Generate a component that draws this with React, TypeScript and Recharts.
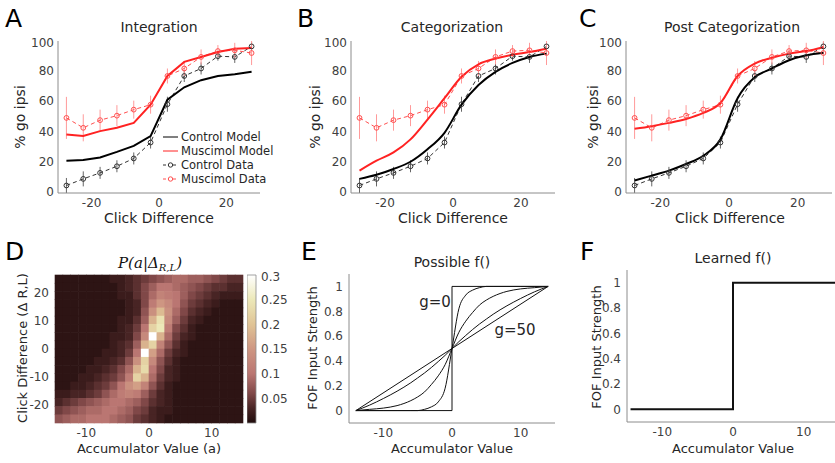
import React from "react";
import {
  LineChart,
  Line,
  XAxis,
  YAxis,
  ErrorBar,
  ScatterChart,
  Scatter,
  BarChart,
  Bar,
} from "recharts";

// ---- psychometric data (A, B, C) ----
const clickBins = [-27.5, -22.5, -17.5, -12.5, -7.5, -2.5, 2.5, 7.5, 12.5, 17.5, 22.5, 27.5];
const controlData = [3.9, 8.3, 12.3, 16.7, 21.9, 32.5, 58, 76.8, 81.8, 90, 89.5, 96.5];
const controlErr = [5, 5, 4, 4, 4, 4, 5, 4, 4, 3, 4, 3];
const muscimolData = [48.9, 42.3, 47.4, 50.4, 54.4, 57.7, 76.8, 81.8, 89.5, 93.4, 93.9, 92.1];
const muscimolErr = [14, 9, 7, 7, 6, 6, 5, 5, 5, 4, 5, 8];

const integrationControl = [20.4, 20.8, 22.6, 26.3, 30.3, 36.8, 61, 69.3, 74, 76.8, 78, 79.6];
const integrationMuscimol = [37.9, 36.8, 40.1, 42.3, 45.6, 57.7, 76.8, 86.2, 89.5, 92.8, 95, 95.4];
const categorizationControl = [8.3, 11, 14.9, 19.7, 28, 39, 57.7, 70.8, 79.6, 85.5, 89.5, 91.7];
const categorizationMuscimol = [13.8, 20.4, 25.9, 34.6, 47.8, 62, 76.3, 84.6, 88.4, 91, 92.8, 95];
const postControl = [7.2, 10.5, 13.8, 18.2, 23.7, 34.6, 62, 75.9, 81.8, 87.3, 90.6, 92.3];
const postMuscimol = [41.7, 43.4, 45.6, 48.2, 52.2, 58.8, 76.8, 85.1, 89, 91.7, 93.4, 96];

// ---- heatmap (D): P(a | click difference), values in hundredths ----
const heatA = [
  -14.375, -13.125, -11.875, -10.625, -9.375, -8.125, -6.875, -5.625, -4.375, -3.125, -1.875, -0.625,
  0.625, 1.875, 3.125, 4.375, 5.625, 6.875, 8.125, 9.375, 10.625, 11.875, 13.125, 14.375,
];
const heatDelta = [
  25.03, 22.08, 19.14, 16.19, 13.25, 10.31, 7.36, 4.42, 1.47, -1.47, -4.42, -7.36, -10.31, -13.25,
  -16.19, -19.14, -22.08, -25.03,
];
const heatRows = [
  [1, 1, 1, 1, 1, 1, 1, 2, 2, 3, 4, 5, 6, 7, 8, 9, 9, 8, 8, 7, 6, 5, 4, 4],
  [1, 1, 1, 1, 1, 1, 1, 1, 2, 3, 4, 6, 8, 10, 10, 9, 8, 7, 6, 5, 4, 4, 3, 3],
  [1, 1, 1, 1, 1, 1, 1, 1, 2, 2, 4, 6, 9, 12, 11, 10, 8, 6, 5, 4, 3, 2, 2, 2],
  [1, 1, 1, 1, 1, 1, 1, 1, 1, 2, 3, 6, 11, 15, 13, 10, 7, 5, 4, 3, 2, 1, 1, 1],
  [1, 1, 1, 1, 1, 1, 1, 1, 1, 2, 3, 7, 14, 19, 14, 9, 6, 4, 3, 2, 1, 1, 1, 1],
  [1, 1, 1, 1, 1, 1, 1, 1, 2, 2, 4, 8, 18, 24, 13, 8, 5, 3, 2, 1, 1, 1, 1, 1],
  [1, 1, 1, 1, 1, 1, 1, 1, 2, 3, 5, 10, 22, 25, 11, 6, 4, 2, 1, 1, 1, 1, 1, 1],
  [1, 1, 1, 1, 1, 1, 1, 2, 2, 3, 6, 13, 30, 18, 9, 5, 3, 2, 1, 1, 1, 1, 1, 1],
  [1, 1, 1, 1, 1, 1, 1, 2, 3, 4, 8, 18, 22, 12, 7, 4, 2, 1, 1, 1, 1, 1, 1, 1],
  [1, 1, 1, 1, 1, 1, 2, 2, 3, 5, 10, 30, 16, 9, 5, 3, 2, 1, 1, 1, 1, 1, 1, 1],
  [1, 1, 1, 1, 1, 2, 2, 3, 4, 7, 14, 22, 13, 7, 4, 2, 1, 1, 1, 1, 1, 1, 1, 1],
  [1, 1, 1, 1, 2, 2, 3, 4, 6, 9, 18, 23, 10, 6, 3, 2, 1, 1, 1, 1, 1, 1, 1, 1],
  [1, 1, 1, 2, 2, 3, 4, 5, 7, 11, 22, 18, 9, 5, 3, 2, 1, 1, 1, 1, 1, 1, 1, 1],
  [1, 1, 2, 2, 3, 4, 5, 7, 10, 14, 16, 12, 7, 4, 2, 1, 1, 1, 1, 1, 1, 1, 1, 1],
  [2, 2, 3, 3, 4, 5, 7, 9, 11, 12, 11, 8, 5, 3, 2, 1, 1, 1, 1, 1, 1, 1, 1, 1],
  [3, 4, 5, 6, 7, 8, 9, 10, 10, 9, 8, 6, 4, 3, 2, 1, 1, 1, 1, 1, 1, 1, 1, 1],
  [5, 6, 7, 8, 9, 9, 10, 10, 9, 8, 6, 5, 3, 2, 2, 1, 1, 1, 1, 1, 1, 1, 1, 1],
  [7, 8, 9, 9, 10, 10, 10, 9, 8, 7, 5, 4, 3, 2, 1, 1, 1, 1, 1, 1, 1, 1, 1, 1],
];
const colorbarTicks = [0.05, 0.1, 0.15, 0.2, 0.25, 0.3];

// ---- f() curves (E, F) ----
const fX = [-14, -12, -10, -8, -6, -5, -4, -3, -2, -1, 0, 1, 2, 3, 4, 5, 6, 8, 10, 12, 14];
const fSteep = [0, 0, 0, 0, 0, 0, 0.01, 0.03, 0.07, 0.18, 0.5, 0.82, 0.93, 0.97, 0.99, 1, 1, 1, 1, 1, 1];
const fMid = [0, 0.01, 0.02, 0.04, 0.08, 0.11, 0.15, 0.21, 0.28, 0.37, 0.5, 0.63, 0.72, 0.79, 0.85, 0.89, 0.92, 0.96, 0.98, 0.99, 1];
const fSoft = [0, 0.044, 0.097, 0.156, 0.224, 0.263, 0.303, 0.347, 0.395, 0.445, 0.5, 0.555, 0.605, 0.653, 0.697, 0.737, 0.776, 0.844, 0.903, 0.956, 1];
const linearX = [-14, 14];
const linearY = [0, 1];
const stepX = [-14, 0, 0, 14];
const stepY = [0, 0, 1, 1];
const learnedX = [-14.5, 0, 0, 15];
const learnedY = [0, 0, 1, 1];

const FONT = "'DejaVu Sans', sans-serif";
const AXIS = "#8c8c8c";
const TICK = { fontSize: 12, fill: "#404040", fontFamily: FONT };
const RED = "#ff2222";
const RED_DATA = "#ff5050";

type Box = { left: number; top: number; w: number; h: number };
const YW = 40;
const XH = 24;
const PAD = 6;

const pts = (xs: number[], ys: number[], errs?: number[]) =>
  xs.map((x, i) => ({ x, y: ys[i], err: errs ? errs[i] : 0 }));

function PsychoPanel({
  box,
  control,
  muscimol,
  curve = "monotone",
}: {
  box: Box;
  control: number[];
  muscimol: number[];
  curve?: any;
}) {
  return (
    <div style={{ position: "absolute", left: box.left - YW, top: box.top - PAD }}>
      <LineChart
        width={box.w + YW + PAD}
        height={box.h + PAD + XH}
        margin={{ top: PAD, right: PAD, left: 0, bottom: 0 }}
      >
        <XAxis
          type="number"
          dataKey="x"
          domain={[-30, 30]}
          ticks={[-20, 0, 20]}
          height={XH}
          tick={TICK}
          tickLine={false}
          tickSize={3}
          tickMargin={2}
          axisLine={{ stroke: AXIS }}
          allowDataOverflow
        />
        <YAxis
          type="number"
          domain={[0, 100]}
          ticks={[0, 20, 40, 60, 80, 100]}
          width={YW}
          tick={TICK}
          tickLine={false}
          tickSize={2}
          tickMargin={2}
          axisLine={{ stroke: AXIS }}
        />
        <Line
          data={pts(clickBins, controlData, controlErr)}
          dataKey="y"
          stroke="#333"
          strokeWidth={1}
          strokeDasharray="4 3"
          dot={{ r: 2.4, stroke: "#333", strokeWidth: 1, fill: "none", strokeDasharray: "none" }}
          isAnimationActive={false}
        >
          <ErrorBar dataKey="err" direction="y" width={0} stroke="#666" strokeWidth={1} />
        </Line>
        <Line
          data={pts(clickBins, muscimolData, muscimolErr)}
          dataKey="y"
          stroke={RED_DATA}
          strokeWidth={1}
          strokeDasharray="4 3"
          dot={{ r: 2.4, stroke: RED_DATA, strokeWidth: 1, fill: "none", strokeDasharray: "none" }}
          isAnimationActive={false}
        >
          <ErrorBar dataKey="err" direction="y" width={0} stroke="#ff9a9a" strokeWidth={1} />
        </Line>
        <Line
          data={pts(clickBins, control)}
          dataKey="y"
          type={curve}
          stroke="#000"
          strokeWidth={2}
          dot={false}
          isAnimationActive={false}
        />
        <Line
          data={pts(clickBins, muscimol)}
          dataKey="y"
          type={curve}
          stroke={RED}
          strokeWidth={2}
          dot={false}
          isAnimationActive={false}
        />
      </LineChart>
    </div>
  );
}

function FPanel({ box, children }: { box: Box; children: React.ReactNode }) {
  return (
    <div style={{ position: "absolute", left: box.left - YW, top: box.top - PAD }}>
      <LineChart
        width={box.w + YW + PAD}
        height={box.h + PAD + XH}
        margin={{ top: PAD, right: PAD, left: 0, bottom: 0 }}
      >
        <XAxis
          type="number"
          dataKey="x"
          domain={[-15, 15]}
          ticks={[-10, 0, 10]}
          height={XH}
          tick={TICK}
          tickLine={false}
          tickSize={3}
          tickMargin={2}
          axisLine={{ stroke: AXIS }}
          allowDataOverflow
        />
        <YAxis
          type="number"
          domain={[-0.1, 1.1]}
          ticks={[0, 0.2, 0.4, 0.6, 0.8, 1]}
          width={YW}
          tick={TICK}
          tickLine={false}
          tickSize={2}
          tickMargin={4}
          axisLine={{ stroke: AXIS }}
          allowDataOverflow
        />
        {children}
      </LineChart>
    </div>
  );
}

const cmapStops: [number, number[]][] = [
  [0, [32, 12, 12]],
  [0.03, [72, 36, 36]],
  [0.06, [128, 72, 72]],
  [0.1, [186, 118, 114]],
  [0.15, [206, 150, 130]],
  [0.2, [224, 196, 150]],
  [0.25, [236, 232, 184]],
  [0.3, [255, 255, 255]],
];
function cmap(v: number) {
  for (let i = 1; i < cmapStops.length; i++) {
    const [v1, c1] = cmapStops[i];
    const [v0, c0] = cmapStops[i - 1];
    if (v <= v1 || i === cmapStops.length - 1) {
      const t = Math.max(0, Math.min(1, (v - v0) / (v1 - v0)));
      const c = c0.map((ch, k) => Math.round(ch + (c1[k] - ch) * t));
      return `rgb(${c[0]},${c[1]},${c[2]})`;
    }
  }
  return "#fff";
}

const heatBox: Box = { left: 55, top: 275, w: 188, h: 148 };
const barBox: Box = { left: 247, top: 275, w: 9, h: 148 };

function Heatmap() {
  const cells = heatRows.flatMap((row, j) =>
    row.map((v, i) => ({ a: heatA[i], d: heatDelta[j], v: v / 100 }))
  );
  const cw = heatBox.w / heatA.length;
  const ch = heatBox.h / heatDelta.length;
  return (
    <div style={{ position: "absolute", left: heatBox.left - YW, top: heatBox.top - PAD }}>
      <ScatterChart
        width={heatBox.w + YW + PAD}
        height={heatBox.h + PAD + XH}
        margin={{ top: PAD, right: PAD, left: 0, bottom: 0 }}
      >
        <XAxis
          type="number"
          dataKey="a"
          domain={[-15, 15]}
          ticks={[-10, 0, 10]}
          height={XH}
          tick={TICK}
          tickLine={false}
          tickSize={3}
          tickMargin={2}
          axisLine={false}
        />
        <YAxis
          type="number"
          dataKey="d"
          domain={[-26.5, 26.5]}
          ticks={[-20, -10, 0, 10, 20]}
          width={YW}
          tick={TICK}
          tickLine={false}
          tickSize={2}
          tickMargin={4}
          axisLine={false}
        />
        <Scatter
          data={cells}
          isAnimationActive={false}
          shape={(p: any) => (
            <rect
              x={p.cx - cw / 2 - 0.3}
              y={p.cy - ch / 2 - 0.3}
              width={cw + 0.6}
              height={ch + 0.6}
              fill={cmap(p.payload.v)}
            />
          )}
        />
      </ScatterChart>
    </div>
  );
}

function Colorbar() {
  return (
    <div style={{ position: "absolute", left: barBox.left, top: barBox.top - PAD }}>
      <BarChart
        width={barBox.w + 40}
        height={barBox.h + PAD + 2}
        data={[{ k: "c", v: 0.3 }]}
        margin={{ top: PAD, right: 0, left: 0, bottom: 2 }}
        barCategoryGap={0}
      >
        <defs>
          <linearGradient id="cbGrad" x1="0" y1="0" x2="0" y2="1">
            {cmapStops
              .slice()
              .reverse()
              .map(([v]) => (
                <stop key={v} offset={`${((0.3 - v) / 0.3) * 100}%`} stopColor={cmap(v)} />
              ))}
          </linearGradient>
        </defs>
        <XAxis dataKey="k" hide />
        <YAxis
          orientation="right"
          type="number"
          domain={[0, 0.3]}
          ticks={colorbarTicks}
          width={40}
          tick={TICK}
          tickLine={false}
          tickSize={2}
          tickMargin={3}
          axisLine={false}
        />
        <Bar dataKey="v" fill="url(#cbGrad)" stroke={AXIS} strokeWidth={0.8} isAnimationActive={false} />
      </BarChart>
    </div>
  );
}

const aBox: Box = { left: 58, top: 41, w: 202, h: 152 };
const bBox: Box = { left: 351, top: 41, w: 204, h: 152 };
const cBox: Box = { left: 626, top: 41, w: 206, h: 152 };
const eBox: Box = { left: 349, top: 274, w: 206, h: 149 };
const fBox: Box = { left: 627, top: 270, w: 212, h: 152 };

const txt = { fontFamily: FONT, fill: "#262626" };

function Overlay() {
  const legend = [
    { label: "Control Model", color: "#000", dash: false },
    { label: "Muscimol Model", color: RED, dash: false },
    { label: "Control Data", color: "#333", dash: true },
    { label: "Muscimol Data", color: RED_DATA, dash: true },
  ];
  const ylab = (x: number, y: number, s: string, size: number) => (
    <text
      x={x}
      y={y}
      transform={`rotate(-90 ${x} ${y})`}
      textAnchor="middle"
      dominantBaseline="central"
      fontSize={size}
      {...txt}
    >
      {s}
    </text>
  );
  const mid = (x: number, y: number, s: string, size: number) => (
    <text x={x} y={y} textAnchor="middle" dominantBaseline="central" fontSize={size} {...txt}>
      {s}
    </text>
  );
  const letter = (x: number, y: number, s: string) => (
    <text x={x} y={y} fontSize={25} fontFamily={FONT} fill="#000">
      {s}
    </text>
  );
  return (
    <svg
      width={835}
      height={463}
      style={{ position: "absolute", left: 0, top: 0, pointerEvents: "none" }}
    >
      {letter(5, 27, "A")}
      {letter(297, 27, "B")}
      {letter(579, 27, "C")}
      {letter(5, 260, "D")}
      {letter(301, 260, "E")}
      {letter(580, 260, "F")}

      {mid(159, 27, "Integration", 14)}
      {mid(452, 27, "Categorization", 14)}
      {mid(732, 27, "Post Categorization", 14)}
      {ylab(20, 117, "% go ipsi", 14)}
      {ylab(315, 117, "% go ipsi", 14)}
      {ylab(593, 117, "% go ipsi", 14)}
      {mid(159, 218, "Click Difference", 14)}
      {mid(453, 218, "Click Difference", 14)}
      {mid(730, 218, "Click Difference", 14)}

      {legend.map((e, i) => {
        const y = 137 + i * 14;
        return (
          <g key={e.label}>
            <line
              x1={163}
              x2={178}
              y1={y}
              y2={y}
              stroke={e.color}
              strokeWidth={1}
              strokeDasharray={e.dash ? "3 2" : undefined}
            />
            {e.dash && <circle cx={170.5} cy={y} r={2.2} fill="#fff" stroke={e.color} strokeWidth={1} />}
            <text x={181} y={y} dominantBaseline="central" fontSize={11.5} {...txt}>
              {e.label}
            </text>
          </g>
        );
      })}

      <text
        x={150}
        y={263}
        textAnchor="middle"
        dominantBaseline="central"
        fontSize={15}
        fontFamily="'DejaVu Serif', serif"
        fontStyle="italic"
        fill="#111"
      >
        P(a|Δ
        <tspan fontSize={10} dy={4}>
          R,L
        </tspan>
        <tspan dy={-4}>)</tspan>
      </text>
      {ylab(22, 348, "Click Difference (Δ R,L)", 13)}
      {mid(149, 448, "Accumulator Value (a)", 13)}

      {mid(452, 262, "Possible f()", 14)}
      {ylab(312, 348, "FOF Input Strength", 13)}
      {mid(452, 448, "Accumulator Value", 13)}
      {mid(435, 302, "g=0", 15)}
      {mid(515, 330, "g=50", 15)}

      {mid(733, 258, "Learned f()", 14)}
      {ylab(596, 347, "FOF Input Strength", 13)}
      {mid(733, 448, "Accumulator Value", 13)}
    </svg>
  );
}

export default function App() {
  const fLine = (xs: number[], ys: number[], key: string, width = 1, type: any = "linear") => (
    <Line
      key={key}
      data={pts(xs, ys)}
      dataKey="y"
      type={type}
      stroke="#111"
      strokeWidth={width}
      dot={false}
      isAnimationActive={false}
    />
  );
  return (
    <div
      style={{
        position: "fixed",
        left: 0,
        top: 0,
        width: 835,
        height: 463,
        overflow: "hidden",
        background: "#fff",
        fontFamily: FONT,
      }}
    >
      <PsychoPanel box={aBox} control={integrationControl} muscimol={integrationMuscimol} curve="linear" />
      <PsychoPanel box={bBox} control={categorizationControl} muscimol={categorizationMuscimol} />
      <PsychoPanel box={cBox} control={postControl} muscimol={postMuscimol} />
      <Heatmap />
      <Colorbar />
      <FPanel box={eBox}>
        {fLine(stepX, stepY, "step")}
        {fLine(fX, fSteep, "steep", 1, "monotone")}
        {fLine(fX, fMid, "mid", 1, "monotone")}
        {fLine(fX, fSoft, "soft", 1, "monotone")}
        {fLine(linearX, linearY, "lin")}
      </FPanel>
      <FPanel box={fBox}>{fLine(learnedX, learnedY, "learned", 2)}</FPanel>
      <Overlay />
    </div>
  );
}
